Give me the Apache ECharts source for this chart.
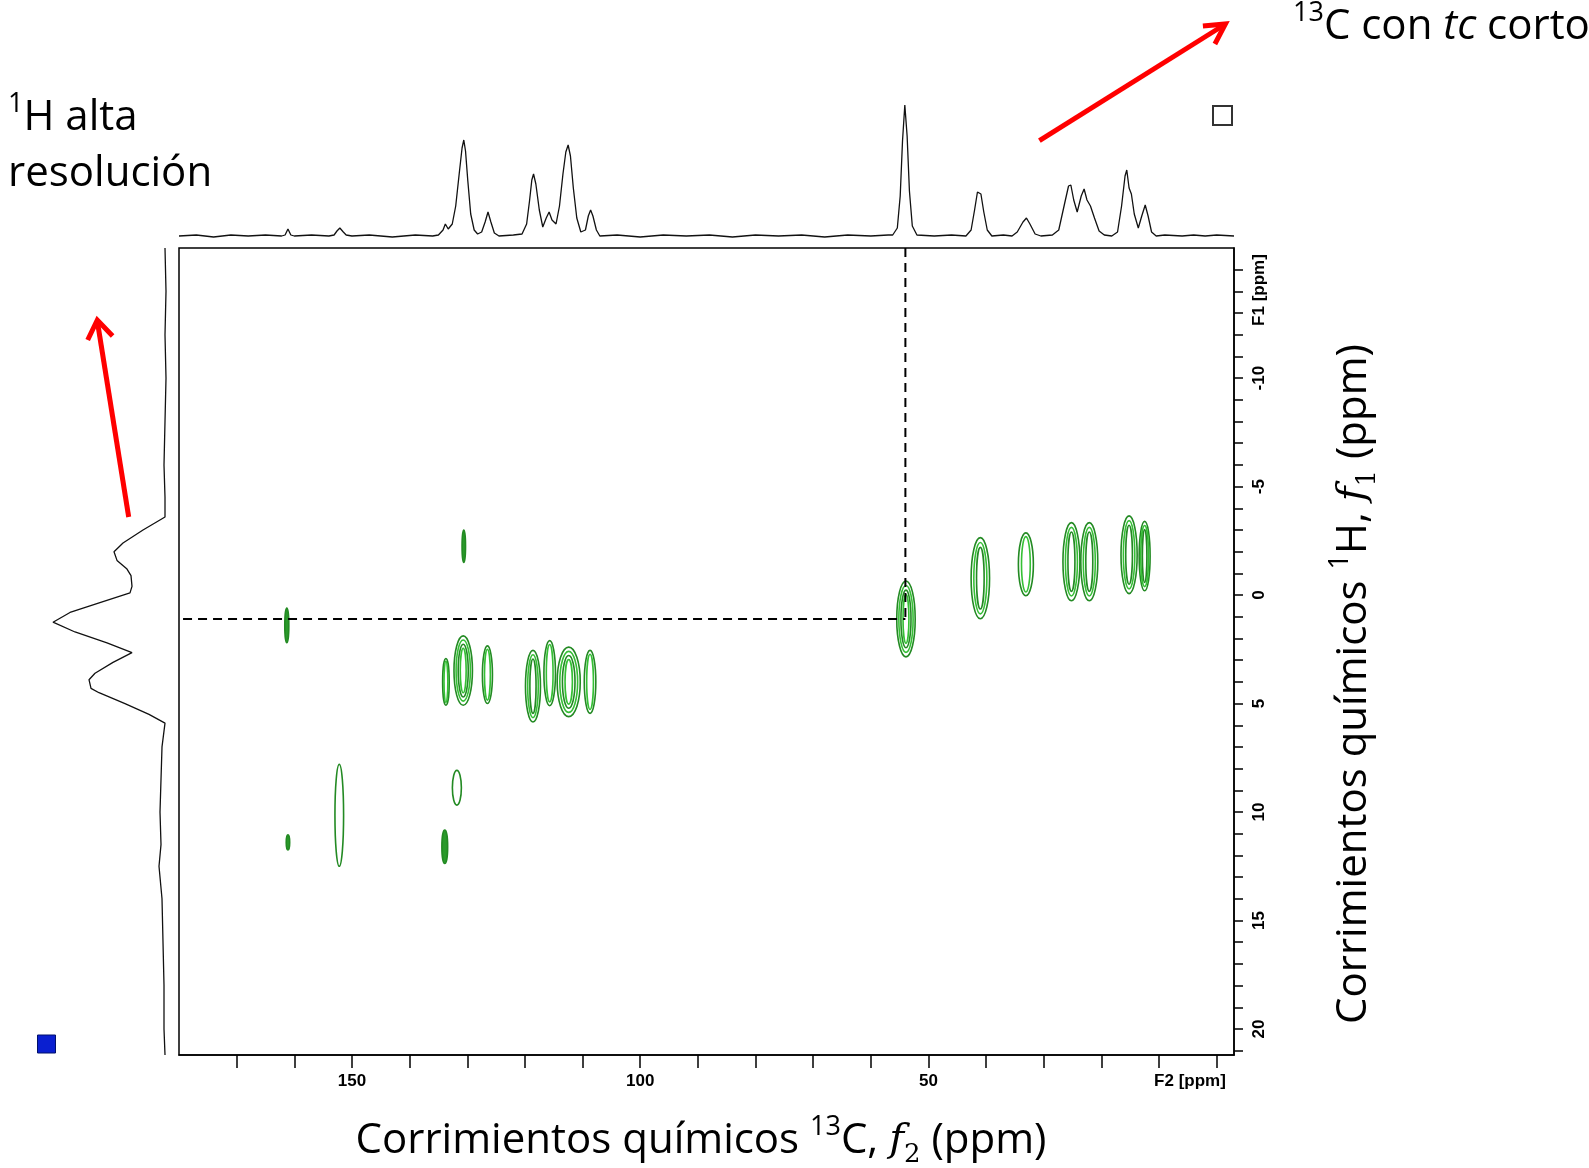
<!DOCTYPE html>
<html>
<head>
<meta charset="utf-8">
<script src="https://cdn.jsdelivr.net/npm/echarts@6/dist/echarts.min.js"></script>
<style>
  html, body { margin: 0; padding: 0; background: #fff; }
  #HetcorChart { width: 1589px; height: 1168px; }
</style>
</head>
<body>
<div id="HetcorChart"></div>
<script>
// axis ticks and labels (ppm)
var f2Ticks = [0, 10, 20, 30, 40, 50, 60, 70, 80, 90, 100, 110, 120, 130, 140, 150, 160, 170];
var f2Labels = [50, 100, 150];
var f1Ticks = [-15, -14, -13, -12, -11, -10, -9, -8, -7, -6, -5, -4, -3, -2, -1, 0, 1, 2, 3, 4, 5, 6, 7, 8, 9, 10,
    11, 12, 13, 14, 15, 16, 17, 18, 19, 20, 21];
var f1Labels = [-10, -5, 0, 5, 10, 15, 20];

// 13C projection (top): [ppm, intensity]
var carbonTrace = [
    [180, 0], [177, 1], [174, -1], [171, 1], [168, 0], [165, 1], [162.2, 0],
    [161.6, 1], [161.1, 7], [160.6, 1], [160, 0], [157, 1], [154, 0], [153.1, 1],
    [152.6, 5], [152.1, 8], [151.5, 4], [151, 1], [150, 0], [147, 1], [143, -1], [139, 1], [136, 0], [135, 1],
    [134.2, 6], [133.8, 12], [133.3, 7], [132.6, 12], [132, 30], [131.4, 62], [130.9, 88], [130.6, 96],
    [130.3, 85], [129.9, 55], [129.4, 22], [128.8, 6], [128.2, 2], [127.5, 4], [126.9, 14], [126.4, 24],
    [125.9, 14], [125.3, 3], [124.5, 0], [122, 1], [120.5, 2],
    [119.7, 12], [119.2, 35], [118.8, 56], [118.5, 62], [118.1, 52], [117.5, 26], [116.9, 9], [116.3, 18],
    [115.8, 24], [115.3, 16], [114.6, 12], [114.0, 30], [113.4, 62], [112.9, 84], [112.5, 91], [112.1, 80],
    [111.6, 48], [111.0, 18], [110.3, 4], [109.5, 6], [109.0, 20], [108.6, 26], [108.2, 20], [107.6, 6],
    [107, 0], [104, 1], [100, -1], [96, 1], [92, 0], [88, 1], [84, -1], [80, 1], [76, 0], [72, 1], [68, -1],
    [64, 1], [60, 0], [57, 1],
    [56.2, 1], [55.4, 8], [54.9, 40], [54.5, 95], [54.1, 131], [53.7, 100], [53.3, 45], [52.8, 10], [52.0, 1],
    [49, 0], [46, 1], [43.5, 0], [42.6, 6], [42.0, 26], [41.5, 44], [41.2, 46], [40.9, 42], [40.4, 24],
    [39.8, 6], [39.0, 0], [37, 1], [35.5, 0], [34.6, 4], [33.6, 14], [33.0, 18], [32.4, 12], [31.5, 2],
    [30.5, 0], [28.5, 1], [27.4, 6], [26.4, 32], [25.7, 50], [25.3, 51], [24.8, 36], [24.2, 24], [23.5, 40],
    [23.0, 47], [22.5, 36], [21.9, 30], [21.2, 18], [20.4, 5], [19.5, 1], [18.2, 0], [17.2, 4], [16.5, 30],
    [15.9, 60], [15.6, 66], [15.2, 48], [14.8, 42], [14.3, 22], [13.6, 8], [13.0, 20], [12.4, 31], [11.9, 20],
    [11.3, 4], [10.5, 0], [9, 1], [6, 0], [4, 1], [2, 0], [0, 1], [-3, 0]
];

// 1H projection (left): [intensity, ppm]
var protonTrace = [
    [0, -16], [-1, -14], [0, -12], [-1, -10], [0, -8], [1, -6], [0, -4.5], [0, -3.6], [22, -3.0], [42, -2.4],
    [51, -2.0], [48, -1.6], [38, -1.2], [34, -0.9], [33, -0.4], [35, -0.1], [62, 0.3], [95, 0.8], [112, 1.25],
    [90, 1.7], [58, 2.2], [33, 2.65], [52, 3.1], [70, 3.6], [76, 3.9], [74, 4.3], [66, 4.5], [40, 5.0],
    [16, 5.5], [0, 5.9], [3, 7], [4, 8.5], [5, 10], [4, 11.5], [6, 12.5], [3, 14], [2, 16], [1, 18], [1, 20],
    [0, 21.2]
];

// cross peaks: 13C shift, 1H shift, half widths (ppm), contour levels
var peakC = [130.6, 161.3, 53.9, 41.0, 33.1, 25.2, 22.1, 15.2, 12.5, 133.7, 130.7, 126.5, 118.6, 115.7,
    112.4, 108.7, 161.1, 152.2, 131.8, 133.9];
var peakH = [-2.25, 1.4, 1.1, -0.78, -1.42, -1.54, -1.54, -1.86, -1.8, 4.0, 3.48, 3.67, 4.2, 3.6, 4.0, 4.0,
    11.4, 10.15, 8.88, 11.6];
var peakHalfC = [0.3, 0.35, 1.6, 1.6, 1.3, 1.47, 1.47, 1.4, 0.95, 0.57, 1.6, 0.87, 1.3, 1.0, 2.0, 1.0,
    0.3, 0.75, 0.78, 0.5];
var peakHalfH = [0.75, 0.8, 1.75, 1.87, 1.45, 1.8, 1.8, 1.79, 1.6, 1.08, 1.6, 1.33, 1.65, 1.5, 1.6, 1.45,
    0.35, 2.35, 0.8, 0.77];
var peakLevels = [1, 1, 4, 3, 2, 3, 3, 3, 3, 2, 4, 2, 3, 2, 4, 2, 1, 1, 1, 1];

// correlation guide lines
var guideC = 54.0;
var guideH = 1.1;

var chart = echarts.init(document.getElementById('HetcorChart'));

var peaks = peakC.map(function (c, i) {
    return [c, peakH[i], peakHalfC[i], peakHalfH[i], peakLevels[i]];
});

function renderPeak(params, api) {
    var center = api.coord([api.value(0), api.value(1)]);
    var size = api.size([api.value(2), api.value(3)]);
    var n = api.value(4);
    var rings = [];
    for (var k = 0; k < n; k++) {
        var f = 1 - k / (n + 0.4);
        rings.push({
            type: 'ellipse',
            shape: { cx: center[0], cy: center[1], rx: Math.max(size[0] * f, 1.3), ry: size[1] * (1 - k * 0.12) },
            style: { fill: k === 0 && n === 1 && size[0] < 3 ? '#2a9a2a' : 'none', stroke: k % 2 ? '#35c035' : '#238a23', lineWidth: 1.6 }
        });
    }
    return { type: 'group', children: rings };
}

var sansRich = {
    n: { fontFamily: 'Open Sans', fontSize: 42, lineHeight: 54, fill: '#000' },
    s: { fontFamily: 'Open Sans', fontSize: 27, lineHeight: 31, verticalAlign: 'top', fill: '#000' },
    i: { fontFamily: 'Open Sans', fontSize: 42, lineHeight: 54, fontStyle: 'italic', fill: '#000' },
    f: { fontFamily: 'DejaVu Serif', fontSize: 40, lineHeight: 54, fontStyle: 'italic', fill: '#000' },
    b: { fontFamily: 'DejaVu Serif', fontSize: 26, lineHeight: 31, verticalAlign: 'bottom', fill: '#000' }
};

var axisFont = { fontFamily: 'Liberation Sans', fontWeight: 'bold', fontSize: 17, color: '#000' };

var option = {
    backgroundColor: '#fff',
    animation: false,
    grid: [
        { left: 179, top: 248, width: 1055, height: 807, show: true, borderColor: '#000', borderWidth: 1.5, backgroundColor: 'transparent' },
        { left: 179, top: 96, width: 1055, height: 145 },
        { left: 35, top: 248, width: 135, height: 807 }
    ],
    xAxis: [
        {
            gridIndex: 0, type: 'value', min: -3, max: 180, inverse: true,
            axisLine: { show: true, onZero: false, lineStyle: { color: '#000', width: 1.5 } },
            axisTick: { show: true, customValues: f2Ticks, length: 13, lineStyle: { color: '#000', width: 1.5 } },
            axisLabel: Object.assign({ customValues: f2Labels, margin: 18 }, axisFont),
            splitLine: { show: false }
        },
        { gridIndex: 1, type: 'value', min: -3, max: 180, inverse: true, show: false },
        { gridIndex: 2, type: 'value', min: -5, max: 130, inverse: true, show: false }
    ],
    yAxis: [
        {
            gridIndex: 0, type: 'value', min: -16, max: 21.2, inverse: true, position: 'right',
            axisLine: { show: true, onZero: false, lineStyle: { color: '#000', width: 1.5 } },
            axisTick: { show: true, customValues: f1Ticks, length: 9, lineStyle: { color: '#000', width: 1.5 } },
            axisLabel: Object.assign({ customValues: f1Labels, margin: 17, rotate: 90 }, axisFont),
            splitLine: { show: false }
        },
        { gridIndex: 1, type: 'value', min: -5, max: 140, show: false },
        { gridIndex: 2, type: 'value', min: -16, max: 21.2, inverse: true, show: false }
    ],
    series: [
        {
            type: 'line', xAxisIndex: 1, yAxisIndex: 1, data: carbonTrace, symbol: 'none',
            lineStyle: { color: '#111', width: 1.3 }
        },
        {
            type: 'line', xAxisIndex: 2, yAxisIndex: 2, data: protonTrace, symbol: 'none',
            lineStyle: { color: '#111', width: 1.3 }
        },
        {
            type: 'custom', xAxisIndex: 0, yAxisIndex: 0, data: peaks, renderItem: renderPeak
        },
        {
            type: 'line', xAxisIndex: 0, yAxisIndex: 0, symbol: 'none', clip: false,
            data: [[guideC, -16], [guideC, guideH]],
            lineStyle: { color: '#000', width: 2, type: [9, 6] }
        },
        {
            type: 'line', xAxisIndex: 0, yAxisIndex: 0, symbol: 'none', clip: false,
            data: [[181.9, guideH], [guideC, guideH]],
            lineStyle: { color: '#000', width: 2, type: [9, 6] }
        }
    ],
    graphic: [
        { type: 'text', x: 8, y: 91, style: { text: '{s|1}{n|H alta}', rich: sansRich } },
        { type: 'text', x: 8, y: 147, style: { text: '{n|resolución}', rich: sansRich } },
        { type: 'text', x: 1293, y: 0, style: { text: '{s|13}{n|C con }{i|tc}{n| corto}', rich: sansRich } },
        {
            type: 'text', x: 701, y: 1141,
            style: { text: '{n|Corrimientos químicos }{s|13}{n|C, }{f|f}{b|2}{n| (ppm)}', rich: sansRich, align: 'center', verticalAlign: 'middle' }
        },
        {
            type: 'text', x: 1354, y: 684, rotation: Math.PI / 2,
            style: { text: '{n|Corrimientos químicos }{s|1}{n|H, }{f|f}{b|1}{n| (ppm)}', rich: sansRich, align: 'center', verticalAlign: 'middle' }
        },
        {
            type: 'text', x: 1190, y: 1081,
            style: { text: 'F2 [ppm]', font: 'bold 17px "Liberation Sans"', fill: '#000', align: 'center', verticalAlign: 'middle' }
        },
        {
            type: 'text', x: 1259, y: 290, rotation: Math.PI / 2,
            style: { text: 'F1 [ppm]', font: 'bold 17px "Liberation Sans"', fill: '#000', align: 'center', verticalAlign: 'middle' }
        },
        // red arrows
        { type: 'line', shape: { x1: 128.7, y1: 517, x2: 97.3, y2: 321 }, style: { stroke: '#ff0000', lineWidth: 5 } },
        { type: 'polyline', shape: { points: [[87.7, 340], [97.3, 320], [112.6, 336]] }, style: { stroke: '#ff0000', lineWidth: 5, fill: 'none' } },
        { type: 'line', shape: { x1: 1039.4, y1: 140.7, x2: 1224, y2: 25 }, style: { stroke: '#ff0000', lineWidth: 5 } },
        { type: 'polyline', shape: { points: [[1202.9, 26], [1225.4, 24], [1214.9, 44]] }, style: { stroke: '#ff0000', lineWidth: 5, fill: 'none' } },
        // small squares
        { type: 'rect', shape: { x: 37.5, y: 1035, width: 18, height: 18 }, style: { fill: '#0a1fd0', stroke: '#00106a', lineWidth: 1 } },
        { type: 'rect', shape: { x: 1213, y: 106, width: 19, height: 19 }, style: { fill: '#fff', stroke: '#333', lineWidth: 2 } }
    ]
};

chart.setOption(option);
</script>
</body>
</html>
